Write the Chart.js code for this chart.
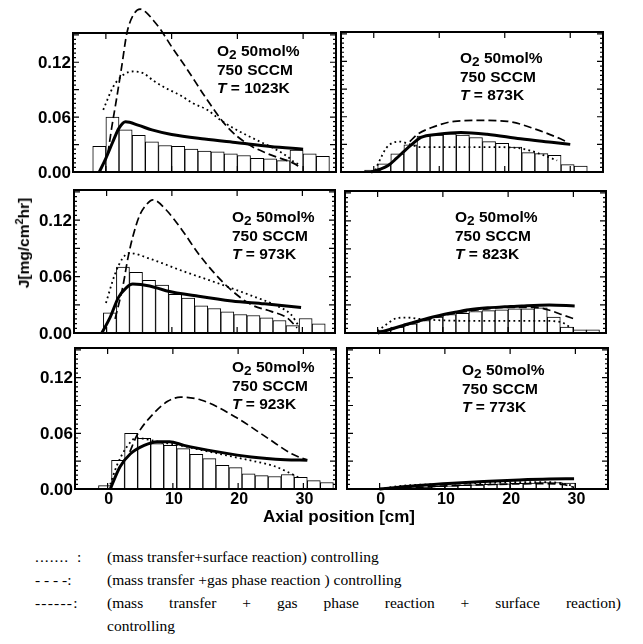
<!DOCTYPE html>
<html>
<head>
<meta charset="utf-8">
<script src="https://cdn.jsdelivr.net/npm/chart.js@4.4.0/dist/chart.umd.min.js"></script>
<style>
  body { margin: 0; background: #fff; }
  #page { position: relative; width: 643px; height: 644px; overflow: hidden; }
  canvas { position: absolute; }
  .ann { position: absolute; font: bold 15.5px "Liberation Sans", Arial, sans-serif; line-height: 18px; white-space: nowrap; color: #000; }
  .ann .s2 { font-size: 88%; position: relative; top: 3px; }
  .ttl { position: absolute; font: bold 16px "Liberation Sans", Arial, sans-serif; white-space: nowrap; transform: translate(-50%, -50%); }
  .leg { position: absolute; font: 15.5px "Liberation Serif", "Times New Roman", serif; line-height: 23px; white-space: nowrap; color: #000; }
</style>
</head>
<body>
<div id="page">
  <canvas id="c1023" width="340" height="186" style="left:0px;top:0px"></canvas>
  <canvas id="c873" width="280" height="186" style="left:330px;top:0px"></canvas>
  <canvas id="c973" width="340" height="172" style="left:1px;top:176px"></canvas>
  <canvas id="c823" width="280" height="172" style="left:330px;top:176px"></canvas>
  <canvas id="c923" width="340" height="200" style="left:2px;top:334px"></canvas>
  <canvas id="c773" width="290" height="200" style="left:330px;top:334px"></canvas>

  <div class="ann" style="left:217px;top:42px">O<span class="s2">2</span> 50mol%<br>750 SCCM<br><i>T</i> = 1023K</div>
  <div class="ann" style="left:460px;top:49px">O<span class="s2">2</span> 50mol%<br>750 SCCM<br><i>T</i> = 873K</div>
  <div class="ann" style="left:232px;top:208px">O<span class="s2">2</span> 50mol%<br>750 SCCM<br><i>T</i> = 973K</div>
  <div class="ann" style="left:455px;top:208px">O<span class="s2">2</span> 50mol%<br>750 SCCM<br><i>T</i> = 823K</div>
  <div class="ann" style="left:232px;top:358px">O<span class="s2">2</span> 50mol%<br>750 SCCM<br><i>T</i> = 923K</div>
  <div class="ann" style="left:462px;top:361px">O<span class="s2">2</span> 50mol%<br>750 SCCM<br><i>T</i> = 773K</div>

  <div class="ttl" style="left:23px;top:243px;transform:translate(-50%,-50%) rotate(-90deg);font-size:15.5px">J[mg/cm<sup style="font-size:70%">2</sup>hr]</div>
  <div class="ttl" style="left:339px;top:517px;font-size:17px">Axial position [cm]</div>

  <div class="leg" style="left:35px;top:545px;letter-spacing:1px">.......</div>
  <div class="leg" style="left:77px;top:545px">:</div>
  <div class="leg" style="left:107px;top:545px">(mass transfer+surface reaction) controlling</div>
  <div class="leg" style="left:35px;top:568px">- - - -:</div>
  <div class="leg" style="left:107px;top:568px">(mass transfer +gas phase reaction ) controlling</div>
  <div class="leg" style="left:35px;top:591px;letter-spacing:1.2px">------:</div>
  <div class="leg" style="left:107px;top:591px;width:514px;white-space:normal;text-align:justify;text-align-last:justify">(mass transfer + gas phase reaction + surface reaction)</div>
  <div class="leg" style="left:107px;top:614px">controlling</div>
</div>
<script>
// AXES
const xTickLabels = [0, 10, 20, 30];
const yTickLabels = [0, 0.06, 0.12];

// T = 1023K
const binX1023 = [-1, 1, 3, 5, 7, 9, 11, 13, 15, 17, 19, 21, 23, 25, 27, 29, 31, 33];
const binY1023 = [0.028, 0.060, 0.046, 0.040, 0.033, 0.029, 0.028, 0.025, 0.023, 0.022, 0.020, 0.018, 0.015, 0.0145, 0.0125, 0.024, 0.020, 0.017];
const solidX1023 = [-1, 0, 1, 2, 3, 5, 7, 10, 15, 20, 25, 30];
const solidY1023 = [0, 0.015, 0.032, 0.048, 0.055, 0.051, 0.046, 0.041, 0.036, 0.032, 0.028, 0.025];
const dashX1023 = [0.3, 0.9, 1.6, 2.4, 3.2, 4.2, 5.2, 6.2, 7.2, 8.2, 10, 12.3, 15.4, 18.5, 21.5, 24.6, 28.5, 29.6];
const dashY1023 = [0.02, 0.049, 0.079, 0.115, 0.152, 0.172, 0.178, 0.174, 0.166, 0.157, 0.137, 0.113, 0.079, 0.049, 0.031, 0.020, 0.0097, 0.005];
const dotX1023 = [-0.4, 1.1, 2.6, 4.2, 5.7, 7.2, 9.3, 11.3, 13.3, 15.4, 17.4, 19.4, 21.5, 23.5, 25.5, 27.6, 28.6, 29.6];
const dotY1023 = [0.068, 0.093, 0.106, 0.110, 0.108, 0.100, 0.091, 0.084, 0.075, 0.068, 0.057, 0.048, 0.040, 0.033, 0.026, 0.017, 0.011, 0.0076];

// T = 873K
const binX873 = [-0.4, 1.6, 3.6, 5.6, 7.6, 9.6, 11.6, 13.6, 15.6, 17.6, 19.6, 21.6, 23.6, 25.6, 27.6, 29.6, 31.6];
const binY873 = [0.002, 0.009, 0.0196, 0.0296, 0.039, 0.040, 0.0415, 0.040, 0.0375, 0.033, 0.031, 0.027, 0.021, 0.020, 0.018, 0.008, 0.0064];
const solidX873 = [-0.4, 1, 2.2, 3.5, 4.7, 6, 7.2, 9.8, 13.3, 17.3, 22.4, 27.5, 30];
const solidY873 = [0, 0.003, 0.007, 0.015, 0.023, 0.031, 0.0375, 0.041, 0.043, 0.041, 0.036, 0.032, 0.030];
const dashX873 = [5.5, 6.7, 8.75, 12.3, 16.3, 20.4, 24.9, 28.5, 29.7];
const dashY873 = [0.033, 0.041, 0.048, 0.055, 0.056, 0.055, 0.046, 0.036, 0.032];
const dotX873 = [0.2, 1.0, 1.9, 3, 4, 5.5, 7.2, 10, 14, 18, 22, 24, 26, 28];
const dotY873 = [0.002, 0.014, 0.026, 0.032, 0.033, 0.030, 0.027, 0.027, 0.027, 0.027, 0.026, 0.023, 0.018, 0.0125];

// T = 973K
const binX973 = [0.5, 2.5, 4.5, 6.5, 8.5, 10.5, 12.5, 14.5, 16.5, 18.5, 20.5, 22.5, 24.5, 26.5, 28.5, 30.5, 32.5];
const binY973 = [0.0215, 0.070, 0.0645, 0.056, 0.051, 0.041, 0.037, 0.029, 0.026, 0.0226, 0.0197, 0.0186, 0.016, 0.0133, 0.0079, 0.0154, 0.0097];
const solidX973 = [-0.75, 0.5, 1.8, 3.0, 4.0, 6.6, 9.1, 14.1, 19.2, 24.2, 29.8];
const solidY973 = [0, 0.016, 0.0376, 0.048, 0.052, 0.050, 0.045, 0.039, 0.034, 0.031, 0.027];
const dashX973 = [1.3, 2.5, 3.3, 4.0, 5.0, 6.05, 7.1, 9.1, 11.6, 14.1, 16.6, 19.2, 22.2, 25.2, 27.7, 29.2];
const dashY973 = [0.015, 0.05, 0.081, 0.102, 0.124, 0.136, 0.1415, 0.131, 0.109, 0.084, 0.063, 0.045, 0.030, 0.023, 0.016, 0.0054];
const dotX973 = [-0.1, 1.3, 2.5, 3.5, 6.6, 11.6, 16.6, 21.7, 25.7, 28.2, 29.5];
const dotY973 = [0.032, 0.063, 0.080, 0.085, 0.079, 0.066, 0.054, 0.041, 0.030, 0.020, 0.007];

// T = 823K
const binX823 = [1, 3, 5, 7, 9, 11, 13, 15, 17, 19, 21, 23, 25, 27, 29, 31, 33];
const binY823 = [0.003, 0.0064, 0.0099, 0.0134, 0.017, 0.0198, 0.021, 0.023, 0.024, 0.0247, 0.0258, 0.0258, 0.027, 0.017, 0.0064, 0.0035, 0.0035];
const solidX823 = [0, 2, 3.9, 6.5, 9, 11.7, 14, 16.9, 19.5, 22.1, 26.3, 30.2];
const solidY823 = [0, 0.004, 0.008, 0.0134, 0.018, 0.022, 0.025, 0.027, 0.028, 0.029, 0.030, 0.029];
const dashX823 = [0, 5, 10, 15, 20, 24, 26.5, 28.5, 30.2];
const dashY823 = [0, 0.0095, 0.0185, 0.0245, 0.0275, 0.0275, 0.024, 0.019, 0.015];
const dotX823 = [0, 1.5, 3, 4.5, 6.5, 10, 15, 20, 25, 28, 29.5];
const dotY823 = [0.002, 0.010, 0.016, 0.0165, 0.015, 0.0135, 0.013, 0.013, 0.013, 0.012, 0.006];

// T = 923K
const binX923 = [-0.4, 1.6, 3.6, 5.6, 7.6, 9.6, 11.6, 13.6, 15.6, 17.6, 19.6, 21.6, 23.6, 25.6, 27.6, 29.6, 31.6, 33.6];
const binY923 = [0.0036, 0.031, 0.060, 0.0545, 0.049, 0.047, 0.0436, 0.0375, 0.0327, 0.0255, 0.023, 0.0164, 0.0145, 0.0135, 0.0156, 0.0127, 0.009, 0.007];
const solidX923 = [0.4, 1.9, 3.5, 5.6, 7.6, 9.5, 11.7, 16.9, 22.0, 27.2, 30.6];
const solidY923 = [0, 0.024, 0.038, 0.047, 0.051, 0.051, 0.047, 0.040, 0.0345, 0.0316, 0.031];
const dashX923 = [3.4, 4.5, 6.6, 9.2, 11.2, 14.3, 19.5, 24.6, 28.2, 30.6];
const dashY923 = [0.040, 0.058, 0.078, 0.0945, 0.099, 0.096, 0.078, 0.0545, 0.038, 0.031];
const dotX923 = [0.4, 1.4, 2.9, 4.4, 6.4, 8.4, 10.4, 14.4, 18.4, 22.4, 25.4, 27.4, 29.4];
const dotY923 = [0.005, 0.025, 0.045, 0.055, 0.053, 0.050, 0.048, 0.042, 0.036, 0.030, 0.025, 0.019, 0.012];

// T = 773K
const binX773 = [5, 7, 9, 11, 13, 15, 17, 19, 21, 23, 25, 27, 29];
const binY773 = [0.0015, 0.002, 0.003, 0.0035, 0.004, 0.0045, 0.005, 0.0055, 0.006, 0.0065, 0.007, 0.007, 0.0065];
const solidX773 = [0, 3, 6, 11.2, 16, 21.4, 26, 29.8];
const solidY773 = [0, 0.002, 0.0038, 0.0062, 0.008, 0.0098, 0.0108, 0.011];
const dashX773 = [0, 5, 11, 16, 21, 25, 28, 29.8];
const dashY773 = [0, 0.0015, 0.0036, 0.0046, 0.0055, 0.0058, 0.005, 0.0018];
const dotX773 = [0, 3.6, 7, 11, 16, 21, 25, 28, 29.8];
const dotY773 = [0, 0.0036, 0.0048, 0.0057, 0.0065, 0.0073, 0.0075, 0.006, 0.003];


function pts(xs, ys) {
    return xs.map(function (v, i) { return {x: v, y: ys[i]}; });
}

function curve(xs, ys, style) {
    var ds = {
        type: 'line',
        data: pts(xs, ys),
        borderColor: '#000',
        pointRadius: 0,
        fill: false,
        cubicInterpolationMode: 'monotone',
        clip: false,
        order: 1
    };
    if (style == 'solid') { ds.borderWidth = 3; }
    if (style == 'dashed') { ds.borderWidth = 1.7; ds.borderDash = [8, 4]; }
    if (style == 'dotted') { ds.borderWidth = 1.8; ds.borderDash = [1.8, 3.2]; }
    return ds;
}

// FRAME, INWARD TICKS AND TICK LABELS
const frameTicks = {
    id: 'frameTicks',
    afterDatasetsDraw(chart, args, opts) {
        var ctx = chart.ctx;
        var a = chart.chartArea;
        var x = chart.scales.x;
        var y = chart.scales.y;
        ctx.save();
        ctx.strokeStyle = '#000';
        ctx.lineWidth = 1.2;
        ctx.beginPath();
        for (var i = 0; i * 0.005 <= y.max; i++) {
            var py = y.getPixelForValue(i * 0.005);
            var len = (i % 6 == 0) ? 6 : 3;
            ctx.moveTo(a.left, py); ctx.lineTo(a.left + len, py);
            ctx.moveTo(a.right, py); ctx.lineTo(a.right - len, py);
        }
        xTickLabels.forEach(function (v) {
            var px = x.getPixelForValue(v);
            ctx.moveTo(px, a.top); ctx.lineTo(px, a.top + 6);
            ctx.moveTo(px, a.bottom); ctx.lineTo(px, a.bottom - 6);
        });
        ctx.stroke();
        ctx.lineWidth = 2;
        ctx.strokeRect(a.left, a.top, a.right - a.left, a.bottom - a.top);

        ctx.fillStyle = '#000';
        if (opts.yLabels) {
            ctx.font = 'bold 17px "Liberation Sans", Arial, sans-serif';
            ctx.textAlign = 'right';
            ctx.textBaseline = 'middle';
            yTickLabels.forEach(function (v) {
                ctx.fillText(v.toFixed(2), a.left - 2, y.getPixelForValue(v) + 1);
            });
        }
        if (opts.xLabels) {
            ctx.font = 'bold 16px "Liberation Sans", Arial, sans-serif';
            ctx.textAlign = 'center';
            ctx.textBaseline = 'top';
            xTickLabels.forEach(function (v) {
                ctx.fillText(String(v), x.getPixelForValue(v) + 1, a.bottom + 3);
            });
        }
        ctx.restore();
    }
};

function makePanel(id, p, showY, showX, pad) {
    return new Chart(id, {
        type: 'bar',
        data: {
            datasets: [
                curve(p.solidX, p.solidY, 'solid'),
                curve(p.dashX, p.dashY, 'dashed'),
                curve(p.dotX, p.dotY, 'dotted'),
                {
                    type: 'bar',
                    data: pts(p.binX, p.binY),
                    backgroundColor: '#fff',
                    borderColor: '#000',
                    borderWidth: 1,
                    barPercentage: 1,
                    categoryPercentage: 1,
                    order: 5
                }
            ]
        },
        options: {
            responsive: false,
            animation: false,
            devicePixelRatio: 1,
            layout: { padding: pad },
            plugins: {
                legend: { display: false },
                tooltip: { enabled: false },
                frameTicks: { yLabels: showY, xLabels: showX }
            },
            scales: {
                x: { type: 'linear', min: -5, max: 35, offset: false, display: false },
                y: { type: 'linear', min: 0, max: 0.152, display: false }
            }
        },
        plugins: [frameTicks]
    });
}

makePanel('c1023', {binX: binX1023, binY: binY1023, solidX: solidX1023, solidY: solidY1023,
    dashX: dashX1023, dashY: dashY1023, dotX: dotX1023, dotY: dotY1023},
    true, false, {top: 33, right: 4, bottom: 14, left: 73});

makePanel('c873', {binX: binX873, binY: binY873, solidX: solidX873, solidY: solidY873,
    dashX: dashX873, dashY: dashY873, dotX: dotX873, dotY: dotY873},
    false, false, {top: 32, right: 7, bottom: 14, left: 11});

makePanel('c973', {binX: binX973, binY: binY973, solidX: solidX973, solidY: solidY973,
    dashX: dashX973, dashY: dashY973, dotX: dotX973, dotY: dotY973},
    true, false, {top: 14, right: 6, bottom: 15, left: 73});

makePanel('c823', {binX: binX823, binY: binY823, solidX: solidX823, solidY: solidY823,
    dashX: dashX823, dashY: dashY823, dotX: dotX823, dotY: dotY823},
    false, false, {top: 15, right: 4, bottom: 15, left: 15});

makePanel('c923', {binX: binX923, binY: binY923, solidX: solidX923, solidY: solidY923,
    dashX: dashX923, dashY: dashY923, dotX: dotX923, dotY: dotY923},
    true, true, {top: 14, right: 6, bottom: 45, left: 73});

makePanel('c773', {binX: binX773, binY: binY773, solidX: solidX773, solidY: solidY773,
    dashX: dashX773, dashY: dashY773, dotX: dotX773, dotY: dotY773},
    false, true, {top: 14, right: 12, bottom: 45, left: 17});
</script>
</body>
</html>
